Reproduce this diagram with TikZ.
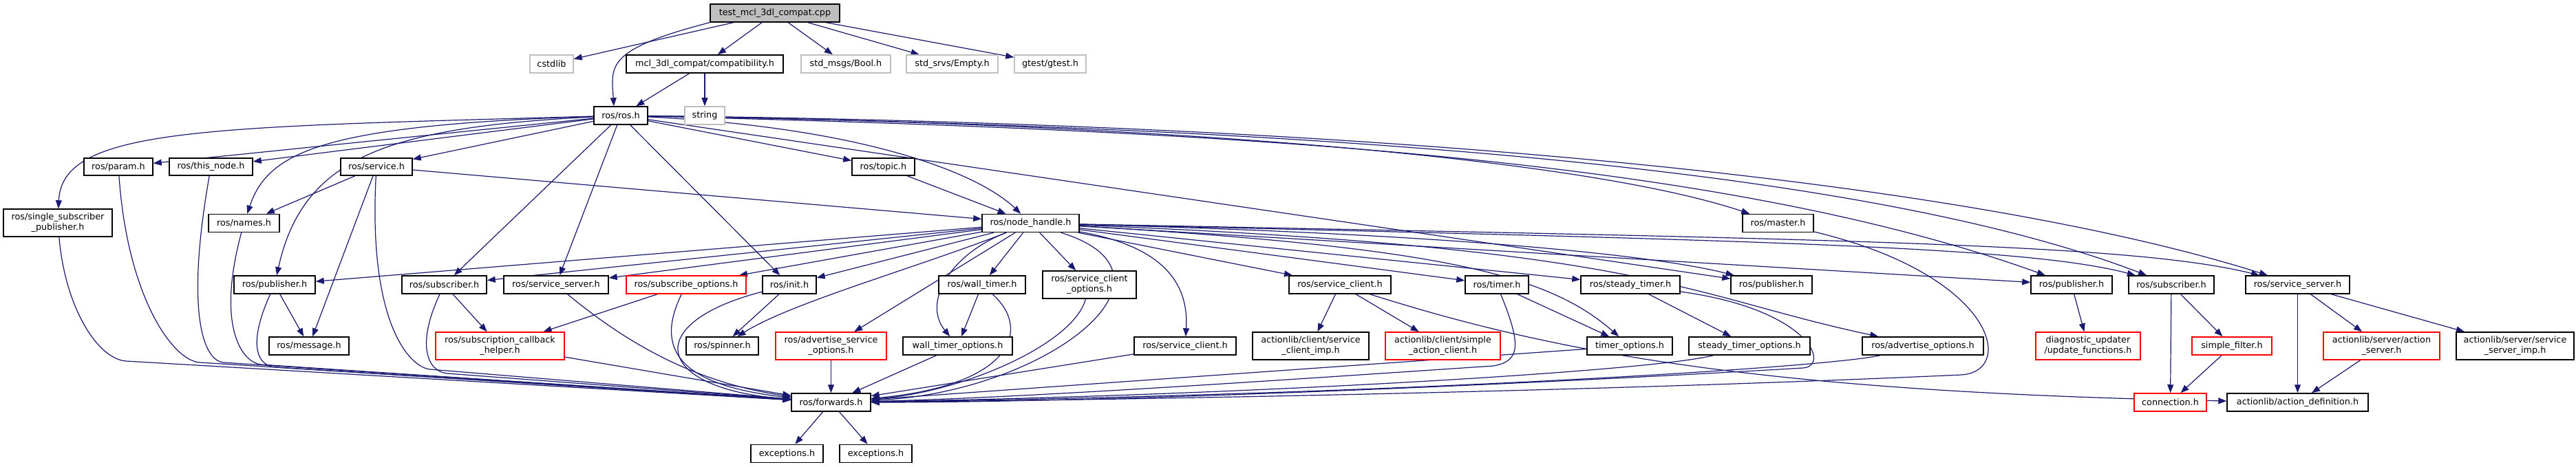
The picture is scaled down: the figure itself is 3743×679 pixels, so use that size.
\documentclass[tikz,border=0pt]{standalone}
\usepackage{fontspec}
\setmainfont{DejaVu Sans}
\usetikzlibrary{arrows.meta,calc}
\definecolor{edgec}{HTML}{191970}
\definecolor{extc}{HTML}{BFBFBF}
\definecolor{rootfill}{HTML}{BFBFBF}
\definecolor{truncc}{HTML}{FF0000}
\pgfdeclarelayer{edges}
\pgfsetlayers{edges,main}
\begin{document}
\begin{tikzpicture}[x=1pt,y=1pt,
  every node/.style={font=\fontsize{12.8}{15}\selectfont},
  box/.style={draw=black, fill=white, line width=1.5pt, inner sep=0pt, minimum height=26pt, align=center, text=black},
  dbl/.style={minimum height=40pt},
  extbox/.style={draw=extc},
  truncbox/.style={draw=truncc},
  rootbox/.style={fill=rootfill},
  e/.style={draw=edgec, line width=1.2pt, -{Triangle[length=12pt,width=9pt]}},
]
\useasboundingbox (0,0) rectangle (3743,-679);
% row 0
\node[box, rootbox, minimum width=188pt] (root) at (1126,-19) {test\_mcl\_3dl\_compat.cpp};
% row 1
\node[box, extbox, minimum width=63pt] (cstdlib) at (801.5,-93) {cstdlib};
\node[box, minimum width=228pt] (compat) at (1024,-93) {mcl\_3dl\_compat/compatibility.h};
\node[box, extbox, minimum width=130pt] (bool) at (1229,-93) {std\_msgs/Bool.h};
\node[box, extbox, minimum width=133pt] (empty) at (1383.5,-93) {std\_srvs/Empty.h};
\node[box, extbox, minimum width=104pt] (gtest) at (1526,-93) {gtest/gtest.h};
% row 2
\node[box, minimum width=78pt] (rosh) at (902,-168) {ros/ros.h};
\node[box, extbox, minimum width=58pt] (string) at (1024,-168) {string};
% row 3
\node[box, minimum width=100pt, minimum height=25pt] (param) at (172,-242.5) {ros/param.h};
\node[box, minimum width=121pt, minimum height=25pt] (thisnode) at (306.5,-242.5) {ros/this\_node.h};
\node[box, minimum width=104pt, minimum height=25pt] (service) at (547,-242.5) {ros/service.h};
\node[box, minimum width=91pt, minimum height=25pt] (topic) at (1283.5,-242.5) {ros/topic.h};
% row 4
\node[box, dbl, minimum width=158pt] (ssp) at (84,-324) {ros/single\_subscriber\\\_publisher.h};
\node[box, minimum width=103pt] (names) at (354.5,-324.5) {ros/names.h};
\node[box, minimum width=141pt] (nodehandle) at (1497.5,-324.5) {ros/node\_handle.h};
\node[box, minimum width=103pt] (master) at (2583.5,-324.5) {ros/master.h};
% row 5
\node[box, minimum width=118pt] (pubL) at (399,-414) {ros/publisher.h};
\node[box, minimum width=123pt] (subL) at (645.5,-414) {ros/subscriber.h};
\node[box, minimum width=152pt] (ssL) at (808,-414) {ros/service\_server.h};
\node[box, truncbox, minimum width=174pt] (subopts) at (997,-414) {ros/subscribe\_options.h};
\node[box, minimum width=78pt] (init) at (1147,-414) {ros/init.h};
\node[box, minimum width=126pt] (walltimer) at (1427,-414) {ros/wall\_timer.h};
\node[box, dbl, minimum width=136pt] (scopts) at (1583,-414) {ros/service\_client\\\_options.h};
\node[box, minimum width=148pt] (scU) at (1947,-414) {ros/service\_client.h};
\node[box, minimum width=92pt] (timer) at (2175,-414) {ros/timer.h};
\node[box, minimum width=144pt] (steadytimer) at (2369,-414) {ros/steady\_timer.h};
\node[box, minimum width=118pt] (pubM) at (2574,-414) {ros/publisher.h};
\node[box, minimum width=118pt] (pubR) at (3010,-414) {ros/publisher.h};
\node[box, minimum width=124pt] (subR) at (3155,-414) {ros/subscriber.h};
\node[box, minimum width=151pt] (ssR) at (3338.5,-414) {ros/service\_server.h};
% row 6
\node[box, minimum width=116pt] (message) at (449,-503) {ros/message.h};
\node[box, dbl, truncbox, minimum width=187pt] (sch) at (726.5,-503) {ros/subscription\_callback\\\_helper.h};
\node[box, minimum width=105pt] (spinner) at (1049.5,-503) {ros/spinner.h};
\node[box, dbl, truncbox, minimum width=161pt] (aso) at (1207.5,-503) {ros/advertise\_service\\\_options.h};
\node[box, minimum width=159pt] (wto) at (1391.5,-503) {wall\_timer\_options.h};
\node[box, minimum width=148pt] (scL) at (1722,-503) {ros/service\_client.h};
\node[box, dbl, minimum width=169pt] (scimp) at (1904.5,-503) {actionlib/client/service\\\_client\_imp.h};
\node[box, dbl, truncbox, minimum width=167pt] (sac) at (2096.5,-503) {actionlib/client/simple\\\_action\_client.h};
\node[box, minimum width=124pt] (topts) at (2368,-503) {timer\_options.h};
\node[box, minimum width=176pt] (stopts) at (2542,-503) {steady\_timer\_options.h};
\node[box, minimum width=176pt] (advopts) at (2794,-503) {ros/advertise\_options.h};
\node[box, dbl, truncbox, minimum width=152pt] (diag) at (3034,-503) {diagnostic\_updater\\/update\_functions.h};
\node[box, truncbox, minimum width=116pt] (sfilter) at (3243,-503) {simple\_filter.h};
\node[box, dbl, truncbox, minimum width=169pt] (actserver) at (3460.5,-503) {actionlib/server/action\\\_server.h};
\node[box, dbl, minimum width=171pt] (ssimp) at (3654.5,-503) {actionlib/server/service\\\_server\_imp.h};
% row 7
\node[box, minimum width=115pt] (forwards) at (1207.5,-585) {ros/forwards.h};
\node[box, truncbox, minimum width=105pt] (connection) at (3153.5,-585) {connection.h};
\node[box, minimum width=205pt] (actdef) at (3338.5,-585) {actionlib/action\_definition.h};
% row 8
\node[box, minimum width=105pt] (exc1) at (1143.5,-659.5) {exceptions.h};
\node[box, minimum width=105pt] (exc2) at (1272.5,-659.5) {exceptions.h};

\begin{pgfonlayer}{edges}
\draw[e] (root) -- (cstdlib);
\draw[e] (root) -- (compat);
\draw[e] (root) -- (bool);
\draw[e] (root) -- (empty);
\draw[e] (root) -- (gtest);
\draw[e] (root.south west) .. controls (880,-72) and (888,-95) .. ($(rosh.north)+(-10,0)$);
\draw[e] (compat) -- (rosh);
\draw[e] (compat) -- (string);

\draw[e] (rosh) .. controls (300,-185) and (90,-185) .. (ssp);
\draw[e] (rosh) -- (param);
\draw[e] (rosh) -- (thisnode);
\draw[e] (rosh) .. controls (470,-182) and (390,-220) .. (names);
\draw[e] (rosh) .. controls (560,-185) and (440,-230) .. (pubL);
\draw[e] (rosh) -- (service);
\draw[e] (rosh) -- (subL);
\draw[e] (rosh) -- (ssL);
\draw[e] (rosh) -- (init);
\draw[e] (rosh) -- (topic);
\draw[e] (rosh) .. controls (1250,-185) and (1420,-250) .. (nodehandle);
\draw[e] (rosh) .. controls (1700,-180) and (2300,-230) .. (master);
\draw[e] (rosh) -- (pubM);
\draw[e] (rosh) .. controls (1800,-190) and (2500,-230) .. (pubR);
\draw[e] (rosh) .. controls (1900,-185) and (2700,-240) .. (subR);
\draw[e] (rosh) .. controls (2000,-180) and (2850,-260) .. (ssR);

\draw[e] (service) -- (names);
\draw[e] (service) -- (message);
\draw[e] (service) -- (nodehandle);
\draw[e] (topic) -- (nodehandle);

% into ros/forwards.h from the left
\draw[e] (ssp) .. controls (95,-450) and (143,-522) .. (183,-525) -- (forwards);
\draw[e] (param) .. controls (185,-430) and (250,-524) .. (290,-527) -- (forwards);
\draw[e] (thisnode) .. controls (270,-450) and (294,-523) .. (324,-527) -- (forwards);
\draw[e] (names) .. controls (315,-470) and (349,-526) .. (379,-530) -- (forwards);
\draw[e] (pubL) .. controls (362,-495) and (370,-531) .. (400,-534) -- (forwards);
\draw[e] (service) .. controls (535,-470) and (595,-534) .. (625,-537) -- (forwards);
\draw[e] (subL) .. controls (605,-500) and (620,-540) .. (650,-543) -- (forwards);
\draw[e] (ssL) .. controls (900,-490) and (1000,-555) .. (forwards);
\draw[e] (subopts) .. controls (950,-510) and (990,-560) .. (forwards);
\draw[e] (init) .. controls (930,-470) and (950,-565) .. (forwards);
\draw[e] (sch) -- (forwards);
\draw[e] (aso) -- (forwards);

\draw[e] (nodehandle) -- (pubL);
\draw[e] (nodehandle) -- (subL);
\draw[e] (nodehandle) -- (ssL);
\draw[e] (nodehandle) -- (subopts);
\draw[e] (nodehandle) -- (init);
\draw[e] (nodehandle) .. controls (1330,-390) and (1150,-440) .. (spinner);
\draw[e] (nodehandle) -- (aso);
\draw[e] (nodehandle) -- (walltimer);
\draw[e] (nodehandle) .. controls (1380,-370) and (1340,-440) .. (wto);
\draw[e] (nodehandle) -- (scopts);
\draw[e] (nodehandle) .. controls (1700,-360) and (1727,-420) .. (scL);
\draw[e] (nodehandle) .. controls (1740,-400) and (1520,-570) .. (forwards);
\draw[e] (nodehandle) -- (scU);
\draw[e] (nodehandle) -- (timer);
\draw[e] (nodehandle) -- (steadytimer);
\draw[e] (nodehandle) .. controls (2100,-360) and (2250,-400) .. (topts);
\draw[e] (nodehandle) .. controls (2100,-340) and (2400,-370) .. (pubM);
\draw[e] (nodehandle) .. controls (2400,-360) and (2450,-430) .. (advopts);
\draw[e] (nodehandle) -- (pubR);
\draw[e] (nodehandle) .. controls (2600,-350) and (2950,-360) .. (subR);
\draw[e] (nodehandle) .. controls (2700,-348) and (3100,-355) .. (ssR);

\draw[e] (master) .. controls (2900,-400) and (2930,-540) .. (2850,-545) .. controls (2300,-570) and (1600,-582) .. (forwards);

\draw[e] (pubL) -- (message);
\draw[e] (subL) -- (sch);
\draw[e] (subopts) -- (sch);
\draw[e] (init) -- (spinner);
\draw[e] (walltimer) -- (wto);
\draw[e] (walltimer) .. controls (1500,-480) and (1470,-560) .. (forwards);
\draw[e] (wto) -- (forwards);
\draw[e] (scopts) .. controls (1560,-500) and (1400,-570) .. (forwards);
\draw[e] (scL) -- (forwards);
\draw[e] (scU) -- (scimp);
\draw[e] (scU) -- (sac);
\draw[e] (scU) .. controls (2250,-510) and (2550,-570) .. (actdef);
\draw[e] (timer) -- (topts);
\draw[e] (timer) .. controls (2210,-500) and (2210,-525) .. (2170,-532) .. controls (1900,-550) and (1500,-578) .. (forwards);
\draw[e] (steadytimer) -- (stopts);
\draw[e] (steadytimer) .. controls (2630,-450) and (2660,-532) .. (2620,-535) .. controls (2200,-560) and (1600,-585) .. (forwards);
\draw[e] (topts) -- (forwards);
\draw[e] (stopts) .. controls (2400,-540) and (1800,-575) .. (forwards);
\draw[e] (advopts) .. controls (2650,-535) and (2000,-575) .. (forwards);

\draw[e] (pubR) -- (diag);
\draw[e] (subR) -- (connection);
\draw[e] (subR) -- (sfilter);
\draw[e] (sfilter) -- (connection);
\draw[e] (ssR) -- (actdef);
\draw[e] (ssR) -- (actserver);
\draw[e] (ssR) -- (ssimp);
\draw[e] (actserver) -- (actdef);
\draw[e] (forwards) -- (exc1);
\draw[e] (forwards) -- (exc2);
\end{pgfonlayer}
\end{tikzpicture}
\end{document}
